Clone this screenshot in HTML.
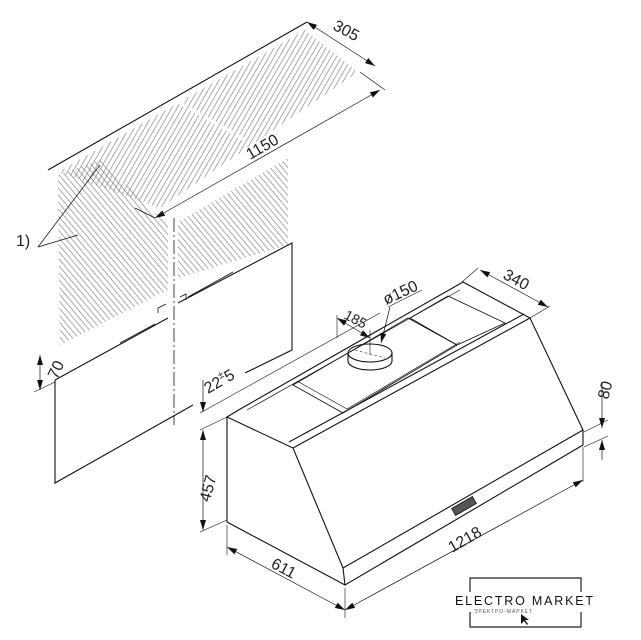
<!DOCTYPE html>
<html><head><meta charset="utf-8"><style>
html,body{margin:0;padding:0;background:#fff;}
svg{display:block;font-family:"Liberation Sans",sans-serif;}
</style></head><body>
<svg width="641" height="640" viewBox="0 0 641 640" xmlns="http://www.w3.org/2000/svg">
<defs>
<pattern id="h1" patternUnits="userSpaceOnUse" width="4.5" height="5" patternTransform="rotate(30)">
<line x1="0" y1="0" x2="0" y2="5" stroke="#777" stroke-width="1.2"/></pattern>
<pattern id="h2" patternUnits="userSpaceOnUse" width="4.5" height="5" patternTransform="rotate(-40)">
<line x1="0" y1="0" x2="0" y2="5" stroke="#777" stroke-width="1.2"/></pattern>
<marker id="a" viewBox="0 0 10 6" refX="10" refY="3" markerWidth="10" markerHeight="6" orient="auto-start-reverse" markerUnits="userSpaceOnUse"><path d="M0,0L10,3L0,6z" fill="#111"/></marker>
</defs>
<g stroke="none">
<polygon points="58,172 305,30 358,72 160,208" fill="url(#h1)"/>
<polygon points="58,175 100,160 168,225 168,290 60,345" fill="url(#h2)"/>
<polygon points="178,222 288,158 288,245 178,278" fill="url(#h2)"/>
</g>
<g fill="none" stroke="#111" stroke-width="1.1">
<line x1="48" y1="170" x2="307" y2="22"/>
<line x1="175" y1="100" x2="245" y2="140" stroke="#fff" stroke-width="3" stroke-dasharray="14 4"/>
<line x1="307" y1="22" x2="375" y2="66" stroke-width="0.7" marker-start="url(#a)" marker-end="url(#a)"/>
<line x1="360" y1="72" x2="385" y2="90" stroke-width="0.7"/>
<line x1="155" y1="218" x2="380" y2="90" stroke-width="0.7" marker-start="url(#a)" marker-end="url(#a)"/>
<line x1="135" y1="208" x2="155" y2="218" stroke-width="0.7"/>
<line x1="38" y1="247" x2="100" y2="165" stroke-width="0.7"/>
<line x1="38" y1="247" x2="78" y2="235" stroke-width="0.7"/>
<line x1="174" y1="218" x2="174" y2="425" stroke-width="0.8" stroke-dasharray="14 3 2 3"/>
<polyline points="178,303 292,243 292,350 245,373"/>
<polyline points="180,297 186,294 186,300" stroke-width="0.8"/>
<line x1="188" y1="297" x2="233" y2="272" stroke-width="0.8"/>
<polyline points="158,313 158,308 166,304" stroke-width="0.8"/>
<line x1="55" y1="380" x2="168" y2="318"/>
<line x1="120" y1="343" x2="155" y2="324" stroke-width="0.8"/>
<polyline points="55,380 55,483 193,405"/>
<line x1="40" y1="355" x2="40" y2="390" stroke-width="0.7" marker-start="url(#a)" marker-end="url(#a)"/>
<line x1="34" y1="392" x2="55" y2="382" stroke-width="0.6"/>
<line x1="203" y1="380" x2="203" y2="412" stroke-width="0.7" marker-end="url(#a)"/>
<line x1="203" y1="430" x2="203" y2="530" stroke-width="0.7" marker-start="url(#a)" marker-end="url(#a)"/>
<line x1="200" y1="413" x2="380" y2="313" stroke-width="0.6"/>
<line x1="200" y1="430" x2="227" y2="417" stroke-width="0.6"/>
<line x1="200" y1="532" x2="227" y2="520" stroke-width="0.6"/>
<polyline points="227,417 227,522 345,585 583,445 583,430 530,318 463,282 242,408 227,417 293,448 343,568 345,585"/>
<line x1="293" y1="448" x2="530" y2="318"/>
<line x1="289" y1="442" x2="524" y2="314"/>
<line x1="247" y1="410" x2="460" y2="290" stroke-width="0.7"/>
<line x1="343" y1="568" x2="583" y2="430"/>
<polygon points="293,385 343,413 457,345 408,318" stroke-width="0.9"/>
<polyline points="297,381 347,409 460,342" stroke-width="0.6"/>
<polygon points="410,318 448,296 505,323 457,345" stroke-width="0.8"/>
<ellipse cx="370" cy="353" rx="22" ry="9"/>
<path d="M348,353 v8 a22,9 0 0 0 44,0 v-8"/>
<line x1="370" y1="330" x2="370" y2="355" stroke-width="0.6"/>
<line x1="355" y1="350" x2="385" y2="358" stroke-width="0.5" stroke-dasharray="3 2"/>
<line x1="337" y1="318" x2="370" y2="338" stroke-width="0.7" marker-start="url(#a)" marker-end="url(#a)"/>
<line x1="337" y1="315" x2="337" y2="338" stroke-width="0.6"/>
<line x1="390" y1="307" x2="381" y2="343" stroke-width="0.7" marker-end="url(#a)"/>
<line x1="388" y1="307" x2="422" y2="290" stroke-width="0.6"/>
<line x1="480" y1="270" x2="548" y2="307" stroke-width="0.7" marker-start="url(#a)" marker-end="url(#a)"/>
<line x1="462" y1="282" x2="478" y2="268" stroke-width="0.6"/>
<line x1="530" y1="318" x2="550" y2="306" stroke-width="0.6"/>
<line x1="602" y1="382" x2="602" y2="428" stroke-width="0.7" marker-end="url(#a)"/>
<line x1="602" y1="440" x2="602" y2="460" stroke-width="0.7" marker-start="url(#a)"/>
<line x1="584" y1="432" x2="608" y2="420" stroke-width="0.6"/>
<line x1="584" y1="447" x2="608" y2="436" stroke-width="0.6"/>
<line x1="227" y1="525" x2="227" y2="555" stroke-width="0.6"/>
<line x1="345" y1="588" x2="345" y2="618" stroke-width="0.6"/>
<line x1="583" y1="447" x2="583" y2="482" stroke-width="0.6"/>
<line x1="227" y1="547" x2="345" y2="610" stroke-width="0.7" marker-start="url(#a)" marker-end="url(#a)"/>
<line x1="345" y1="610" x2="583" y2="480" stroke-width="0.7" marker-start="url(#a)" marker-end="url(#a)"/>
</g>
<rect x="452" y="502" width="24" height="8" transform="rotate(-30 464 506)" fill="#555" stroke="#111" stroke-width="0.8"/>
<g fill="#222" font-size="16">
<text x="332" y="29" transform="rotate(28 332 29)">305</text>
<text x="250" y="160" transform="rotate(-30 250 160)">1150</text>
<text x="16" y="246">1)</text>
<text x="57" y="380" transform="rotate(-65 57 380)">70</text>
<text x="208" y="394" transform="rotate(-30 208 394)">22<tspan font-size="10" dy="-7">±</tspan><tspan dy="7">5</tspan></text>
<text x="200" y="510" transform="rotate(-75 200 500)">457</text>
<text x="343" y="318" font-size="14" transform="rotate(28 343 318)">185</text>
<text x="386" y="305" transform="rotate(-25 386 305)">ø150</text>
<text x="502" y="278" transform="rotate(28 502 278)">340</text>
<text x="608" y="400" transform="rotate(-75 608 400)">80</text>
<text x="452" y="553" transform="rotate(-30 452 553)">1218</text>
<text x="270" y="567" transform="rotate(28 270 567)">611</text>
</g>
<g fill="none" stroke="#222" stroke-width="1.2">
<polyline points="470,592 470,578 581,578 581,592"/>
<polyline points="470,612 470,627 581,627 581,612"/>
</g>
<text x="455" y="605" font-size="12.5" fill="#111" letter-spacing="1.8">ELECTRO MARKET</text>
<text x="474" y="613" font-size="5" fill="#555" letter-spacing="1">ЭЛЕКТРО-МАРКЕТ</text>
<path d="M521,614 l0,10 l3,-3 l3,4 l1,-1 l-3,-4 l4,0 z" fill="#111"/>
</svg>
</body></html>
